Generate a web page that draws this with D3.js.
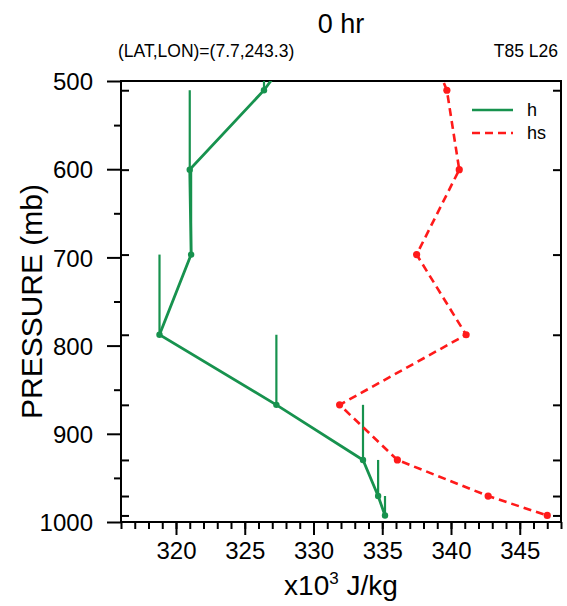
<!DOCTYPE html>
<html>
<head>
<meta charset="utf-8">
<script src="https://cdn.jsdelivr.net/npm/d3@7"></script>
<style>
  html, body { margin: 0; padding: 0; background: #fff; }
  svg { display: block; }
  text { font-family: "Liberation Sans", Arial, Helvetica, sans-serif; fill: #000; }
</style>
</head>
<body>
<svg id="chart" width="567" height="606"></svg>
<script>
// ---- data ----
const levels = [433.90, 510.46, 600.52, 696.80, 787.70, 867.16, 929.65, 970.55, 992.56]; // mb
const hVals  = [330.0, 326.4, 321.0, 321.1, 318.8, 327.3, 333.6, 334.7, 335.2];
const hsVals = [337.7, 339.7, 340.6, 337.5, 341.1, 331.9, 336.1, 342.7, 347.0];
const xMajorTicks = [320, 325, 330, 335, 340, 345];
const yMajorTicks = [500, 600, 700, 800, 900, 1000];
const yMinorTicks = [550, 650, 750, 850, 950];
const seriesNames = ["h", "hs"];
const titleText = "0 hr";
const leftSub = "(LAT,LON)=(7.7,243.3)";
const rightSub = "T85 L26";

// ---- layout ----
const L = 121, R = 561, T = 81, B = 522;
const green = "#17924e", red = "#ff1a1a";

const svg = d3.select("#chart");
const x = d3.scaleLinear().domain([316, 348]).range([L, R]);
const y = d3.scaleLinear().domain([500, 1000]).range([T, B]);

svg.append("defs").append("clipPath").attr("id", "clip")
  .append("rect").attr("x", L).attr("y", T).attr("width", R - L).attr("height", B - T);

const visLevels = levels.filter(p => p >= 500 && p <= 1000);
const xMinor = d3.range(316, 349, 1);

function styleAxis(g) {
  g.selectAll(".domain").remove();
  g.selectAll("line").attr("stroke", "#000").attr("stroke-width", 2);
  g.selectAll("text").attr("font-size", 24).attr("fill", "#000");
}

// bottom minor
svg.append("g").attr("transform", `translate(0,${B})`)
  .call(d3.axisBottom(x).tickValues(xMinor).tickSize(7).tickFormat(""))
  .call(styleAxis);
// bottom major
svg.append("g").attr("transform", `translate(0,${B})`)
  .call(d3.axisBottom(x).tickValues(xMajorTicks).tickSize(13).tickPadding(7).tickFormat(d3.format("d")))
  .call(styleAxis);

// left major
svg.append("g").attr("transform", `translate(${L},0)`)
  .call(d3.axisLeft(y).tickValues(yMajorTicks).tickSize(14).tickPadding(14).tickFormat(d3.format("d")))
  .call(styleAxis)
  .call(g => g.selectAll("text").attr("dy", "0.36em"));
// left minor
svg.append("g").attr("transform", `translate(${L},0)`)
  .call(d3.axisLeft(y).tickValues(yMinorTicks).tickSize(7).tickFormat(""))
  .call(styleAxis);
// left inward level ticks
svg.append("g").attr("transform", `translate(${L},0)`)
  .call(d3.axisRight(y).tickValues(visLevels).tickSize(8).tickFormat(""))
  .call(styleAxis);
// right inward level ticks
svg.append("g").attr("transform", `translate(${R},0)`)
  .call(d3.axisLeft(y).tickValues(visLevels).tickSize(8).tickFormat(""))
  .call(styleAxis);

// frame
svg.append("rect").attr("x", L).attr("y", T).attr("width", R - L).attr("height", B - T)
  .attr("fill", "none").attr("stroke", "#000").attr("stroke-width", 2);

// ---- data marks ----
const plot = svg.append("g").attr("clip-path", "url(#clip)");
const hData = levels.map((p, i) => ({ p, v: hVals[i] }));
const hsData = levels.map((p, i) => ({ p, v: hsVals[i] }));
const line = d3.line().x(d => x(d.v)).y(d => y(d.p));

// stems for h (from level up to the level above)
plot.selectAll(".stem").data(d3.pairs(hData)).join("line")
  .attr("x1", d => x(d[1].v)).attr("x2", d => x(d[1].v))
  .attr("y1", d => y(d[1].p)).attr("y2", d => y(d[0].p))
  .attr("stroke", green).attr("stroke-width", 2.2);

plot.append("path").datum(hsData).attr("d", line)
  .attr("fill", "none").attr("stroke", red).attr("stroke-width", 2.6)
  .attr("stroke-dasharray", "8,5");
plot.selectAll(".hsdot").data(hsData).join("circle")
  .attr("cx", d => x(d.v)).attr("cy", d => y(d.p)).attr("r", 3.6).attr("fill", red);

plot.append("path").datum(hData).attr("d", line)
  .attr("fill", "none").attr("stroke", green).attr("stroke-width", 2.8);
plot.selectAll(".hdot").data(hData).join("circle")
  .attr("cx", d => x(d.v)).attr("cy", d => y(d.p)).attr("r", 3.2).attr("fill", green);

// ---- legend ----
const leg = svg.append("g");
seriesNames.forEach((name, i) => {
  const ly = 110 + i * 23;
  leg.append("line").attr("x1", 472).attr("x2", 513).attr("y1", ly).attr("y2", ly)
    .attr("stroke", i === 0 ? green : red).attr("stroke-width", 2.6)
    .attr("stroke-dasharray", i === 0 ? null : "8,5");
  leg.append("text").attr("x", 527).attr("y", ly + 6).attr("font-size", 18).text(name);
});

// ---- titles ----
svg.append("text").attr("x", (L + R) / 2).attr("y", 33).attr("text-anchor", "middle")
  .attr("font-size", 27).text(titleText);
svg.append("text").attr("x", L - 3).attr("y", 57).attr("font-size", 17.5).text(leftSub);
svg.append("text").attr("x", R - 3).attr("y", 57).attr("text-anchor", "end").attr("font-size", 17.5).text(rightSub);

// axis titles
svg.append("text").attr("transform", `translate(42,${(T + B) / 2}) rotate(-90)`)
  .attr("text-anchor", "middle").attr("font-size", 30).text("PRESSURE (mb)");
const xl = svg.append("text").attr("x", (L + R) / 2).attr("y", 595).attr("text-anchor", "middle").attr("font-size", 28);
xl.append("tspan").text("x10");
xl.append("tspan").attr("font-size", 17).attr("dy", -11).text("3");
xl.append("tspan").attr("dy", 11).text(" J/kg");
</script>
</body>
</html>
